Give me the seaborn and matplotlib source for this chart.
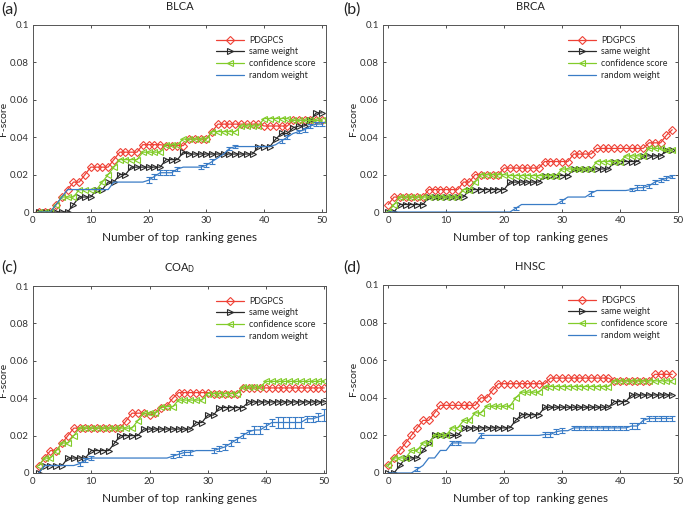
import numpy as np
import matplotlib
matplotlib.use("Agg")
import matplotlib.pyplot as plt
from matplotlib.ticker import FormatStrFormatter
import seaborn as sns

# x positions (top ranking genes)
x_ac = list(range(1, 51))
x_bd = list(range(0, 50))

# (a) BLCA
pd_a = [0]*3 + [0.004, 0.008, 0.012, 0.016, 0.016, 0.02] + [0.024]*4 + [0.028] + [0.032]*4 + \
       [0.036]*4 + [0.0355]*4 + [0.039]*4 + [0.043] + [0.047]*8 + [0.046]*5 + [0.049]*6
sw_a = [0]*6 + [0.004] + [0.008]*3 + [0.012]*2 + [0.016]*2 + [0.02]*2 + [0.024]*6 + [0.028]*3 + \
       [0.032] + [0.031]*12 + [0.035]*3 + [0.039] + [0.042]*2 + [0.045] + [0.046]*2 + [0.049] + [0.053]*2
cs_a = [0]*3 + [0.004] + [0.008]*3 + [0.012]*4 + [0.016, 0.02, 0.024] + [0.028]*4 + [0.032]*4 + \
       [0.036]*3 + [0.039]*5 + [0.043]*5 + [0.046]*4 + [0.05]*5 + [0.049]*6
rw_a = [0]*3 + [0.004, 0.008] + [0.012]*8 + [0.016]*6 + [0.017, 0.019] + [0.021]*3 + [0.023] + \
       [0.024]*4 + [0.025, 0.027, 0.029, 0.031, 0.034] + [0.035]*7 + \
       [0.036, 0.038, 0.040, 0.042, 0.043, 0.044, 0.046, 0.047, 0.047]
er_a = [0]*19 + [0.0015, 0.0015, 0.0012, 0.0012, 0.0012, 0.0012] + [0]*3 + [0.001, 0.001, 0.0012] + \
       [0]*2 + [0.001, 0.001] + [0]*7 + [0.0012, 0.0012, 0, 0.001, 0.001, 0.001, 0.001, 0.001]

# (b) BRCA
pd_b = [0.004] + [0.008]*6 + [0.012]*6 + [0.016]*2 + [0.02]*5 + [0.0235]*7 + [0.027]*5 + \
       [0.031]*4 + [0.034]*9 + [0.037]*3 + [0.041, 0.044]
sw_b = [0]*2 + [0.004]*5 + [0.008]*7 + [0.012]*7 + [0.016]*6 + [0.0195]*5 + [0.023]*7 + \
       [0.027]*5 + [0.03]*4 + [0.033]*2
cs_b = [0, 0.004] + [0.008]*11 + [0.012]*2 + [0.016] + [0.02]*5 + [0.0195]*9 + [0.023]*6 + \
       [0.027]*5 + [0.03]*4 + [0.034]*3 + [0.033]*2
rw_b = [0]*22 + [0.002] + [0.004]*7 + [0.006] + [0.008]*4 + [0.01] + [0.0115]*6 + [0.012] + \
       [0.013]*2 + [0.014, 0.016, 0.017, 0.018, 0.019]
er_b = [0]*22 + [0.0008] + [0]*7 + [0.0012] + [0]*4 + [0.0012] + [0]*6 + \
       [0.001, 0.0012, 0.0012, 0.001, 0.001, 0.001, 0.001, 0.001]

# (c) COAD
pd_c = [0.004, 0.008, 0.012, 0.012, 0.016, 0.02] + [0.024]*9 + [0.028] + [0.032]*3 + \
       [0.031, 0.032, 0.035, 0.036, 0.04] + [0.043]*6 + [0.0425]*5 + [0.0455]*15
sw_c = [0] + [0.004]*4 + [0.008]*4 + [0.012]*4 + [0.016] + [0.02]*4 + [0.0235]*9 + [0.027]*2 + \
       [0.031]*2 + [0.035]*5 + [0.038]*14
cs_c = [0.004, 0.008, 0.008, 0.012, 0.016, 0.016, 0.02] + [0.024]*10 + [0.028] + [0.032]*3 + \
       [0.0355]*3 + [0.039]*5 + [0.0425]*6 + [0.046]*4 + [0.049]*11
rw_c = [0] + [0.004]*6 + [0.005, 0.007] + [0.008]*14 + [0.009, 0.01, 0.011, 0.011] + [0.012]*4 + \
       [0.013, 0.014, 0.016, 0.018, 0.02, 0.022, 0.023, 0.023, 0.025] + [0.027]*6 + \
       [0.029, 0.029, 0.03, 0.031]
er_c = [0]*7 + [0.001, 0.0012, 0.0012] + [0]*13 + [0.0012, 0.0015, 0.0015, 0.0012] + [0]*3 + \
       [0.0012, 0.0015, 0.0015, 0.0015, 0.0015, 0.0012, 0.0012, 0.002, 0.002, 0.0015, 0.002] + \
       [0.003]*5 + [0.0015, 0.0015, 0.002, 0.003]

# (d) HNSC
pd_d = [0.004, 0.008, 0.012, 0.016, 0.02, 0.024, 0.028, 0.028, 0.032] + [0.036]*7 + [0.04]*2 + \
       [0.044] + [0.0475]*9 + [0.0505]*11 + [0.049]*7 + [0.0525]*4
sw_d = [0]*2 + [0.004] + [0.008]*3 + [0.012, 0.016] + [0.02]*5 + [0.024]*9 + [0.028] + [0.031]*4 + \
       [0.035]*12 + [0.038]*3 + [0.0415]*8
cs_d = [0.004] + [0.008]*3 + [0.012]*2 + [0.016]*2 + [0.02]*3 + [0.024]*2 + [0.028]*2 + [0.032]*2 + \
       [0.0355]*5 + [0.04] + [0.043]*4 + [0.046]*12 + [0.049]*11
rw_d = [0]*5 + [0.002, 0.004] + [0.008]*2 + [0.012]*2 + [0.016]*5 + [0.02]*11 + [0.0205]*2 + \
       [0.022] + [0.0225]*2 + [0.024]*10 + [0.025]*2 + [0.028] + [0.029]*5
er_d = [0]*5 + [0.0012] + [0]*5 + [0.0012, 0.0012] + [0]*3 + [0.0015] + [0]*10 + \
       [0.0012]*4 + [0] + [0.0012]*10 + [0.0015, 0.0015] + [0.0012]*6

panels = [
    ("(a)", "BLCA", x_ac, pd_a, sw_a, cs_a, rw_a, er_a, (0, 50.7)),
    ("(b)", "BRCA", x_bd, pd_b, sw_b, cs_b, rw_b, er_b, (-0.9, 50)),
    ("(c)", r"COA$_\mathsf{D}$", x_ac, pd_c, sw_c, cs_c, rw_c, er_c, (0, 50.3)),
    ("(d)", "HNSC", x_bd, pd_d, sw_d, cs_d, rw_d, er_d, (-0.9, 50)),
]

red = "#ef4136"
black = "#2a2a2a"
green = "#82cc2a"
blue = "#3a7cc6"

sns.set_style("white")
plt.rcParams["font.family"] = ["Lato", "DejaVu Sans"]

fig = plt.figure(figsize=(6.85, 5.08), dpi=100)
rects = [
    [33/685, 296/508, 293/685, 187/508],
    [383/685, 296/508, 295/685, 187/508],
    [33/685, 35/508, 293/685, 187/508],
    [383/685, 35/508, 295/685, 188/508],
]
# panel letter positions in pixels (x, y from top)
lab_pos = [(1, 10), (343, 10), (1, 268), (343, 268)]

for rect, lp, (lab, title, x, pdg, sw, cs, rw, er, xl) in zip(rects, lab_pos, panels):
    ax = fig.add_axes(rect)
    sns.lineplot(x=x, y=pdg, ax=ax, color=red, lw=0.9, marker="D", markersize=4.2,
                 markerfacecolor="none", markeredgecolor=red, markeredgewidth=0.8, label="PDGPCS")
    sns.lineplot(x=x, y=sw, ax=ax, color=black, lw=0.9, marker=">", markersize=4.8,
                 markerfacecolor="none", markeredgecolor=black, markeredgewidth=0.8, label="same weight")
    sns.lineplot(x=x, y=cs, ax=ax, color=green, lw=0.9, marker="<", markersize=4.8,
                 markerfacecolor="none", markeredgecolor=green, markeredgewidth=0.8, label="confidence score")
    sns.lineplot(x=x, y=rw, ax=ax, color=blue, lw=0.9, label="random weight")
    xs = np.array(x)
    ys = np.array(rw)
    es = np.array(er)
    m = es > 0
    ax.errorbar(xs[m], ys[m], yerr=es[m], fmt="none", ecolor=blue, elinewidth=0.8,
                capsize=2.5, capthick=0.8)

    ax.set_xlim(*xl)
    ax.set_ylim(0, 0.1)
    ax.set_xticks([0, 10, 20, 30, 40, 50])
    ax.set_yticks([0, 0.02, 0.04, 0.06, 0.08, 0.1])
    ax.yaxis.set_major_formatter(FormatStrFormatter("%g"))
    ax.tick_params(direction="in", length=2.5, width=0.6, labelsize=7, colors="#333333",
                   top=True, right=True, bottom=True, left=True, pad=3)
    for s in ax.spines.values():
        s.set_color("#555555")
        s.set_linewidth(0.7)
    ax.set_xlabel("Number of top  ranking genes", fontsize=8.5, color="#222222", labelpad=5)
    ax.set_ylabel("F-score", fontsize=7.5, color="#222222")
    ax.yaxis.set_label_coords(-0.086, 0.5)
    ax.set_title(title, fontsize=8, color="#222222", pad=11)
    ax.legend(loc="upper right", frameon=False, fontsize=6.4, handlelength=3.2,
              handletextpad=0.5, labelspacing=0.3, borderaxespad=0.8)
    fig.text(lp[0] / 685, 1 - lp[1] / 508, lab, fontsize=11.5, color="#222222",
             ha="left", va="center")

fig.savefig("out.png", dpi=100)
